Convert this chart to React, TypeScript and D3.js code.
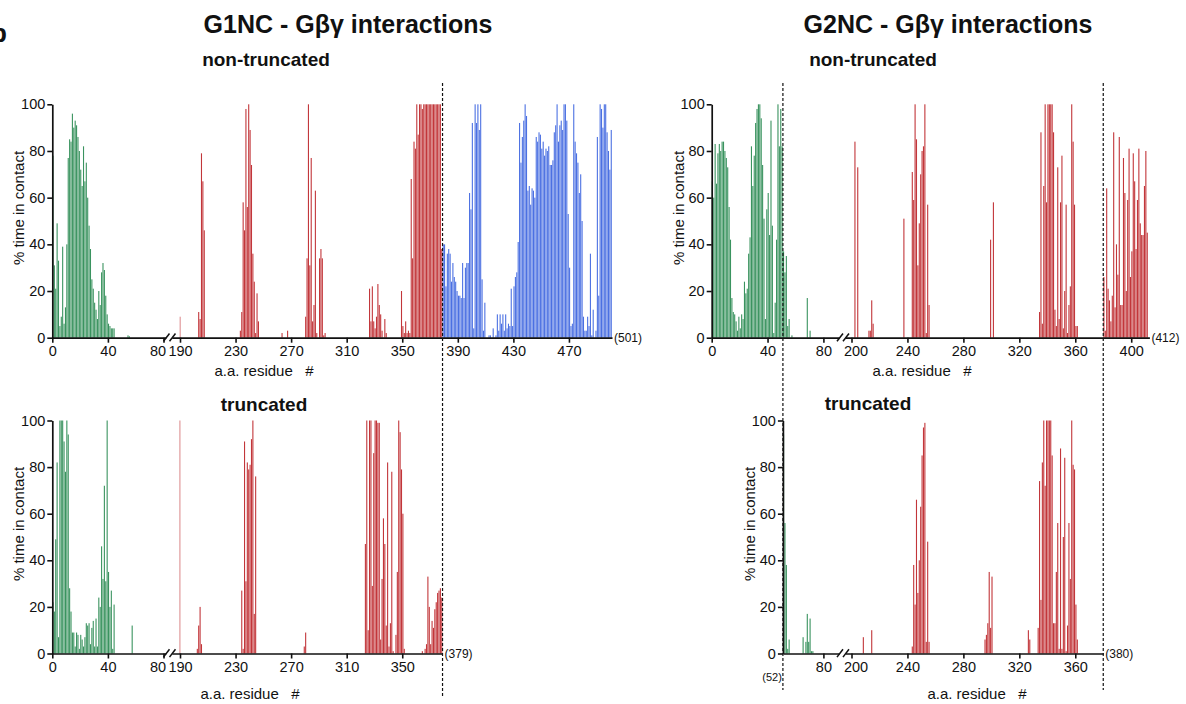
import React, { Component } from "react";
import * as d3 from "d3";

// each run: [first residue, % time in contact for consecutive residues]
type Run = [number, number[]];

// G1NC non-truncated
const g1FullGreen: Run[] = [
  [1, [78, 31, 21, 49, 33, 5, 9, 39, 6, 13, 40, 77, 85, 84, 96, 90, 93, 91, 86, 80, 72, 65, 82, 67, 75, 60, 48, 38, 25, 21, 15, 12, 8, 20, 14, 28, 32, 29, 18, 10, 6, 5, 4, 4, 4]],
  [55, [1, 0.6]],
];
const g1FullRed: Run[] = [
  [189, [9]],
  [204, [11, 8, 79, 67, 46]],
  [234, [3, 11, 58, 46, 98, 56, 100, 89, 74, 36, 24, 2, 19, 7]],
  [264, [2]],
  [268, [3]],
  [281, [9, 34, 100, 31, 77, 7, 14, 63, 2, 0, 34, 38, 34, 1, 2]],
  [327, [21, 7, 22, 7, 4, 9, 23, 14, 10, 3, 0, 8, 2]],
  [350, [20, 5, 2, 7, 2, 3, 2, 68, 34, 84, 81, 100, 87, 100, 100, 98, 100, 100, 100, 100, 100, 100, 100, 100, 100, 100, 100, 100, 100, 38]],
];
const g1FullBlue: Run[] = [
  [380, [
    40, 40, 22, 36, 38, 36, 24, 32, 26, 24,
    20, 18, 18, 17, 32, 17, 30, 32, 32, 62,
    55, 92, 4, 100, 92, 100, 89, 100, 25, 3,
    15, 0, 0, 1, 1, 0, 4, 0, 1, 10,
    3, 10, 6, 10, 3, 10, 4, 6, 5, 21,
    5, 22, 26, 28, 41, 92, 75, 86, 93, 100,
    95, 63, 65, 57, 64, 63, 60, 86, 84, 88,
    87, 81, 84, 78, 81, 80, 82, 74, 74, 76,
    88, 91, 100, 84, 91, 93, 89, 100, 100, 93,
    53, 30, 5, 6, 100, 84, 79, 75, 62, 70,
    50, 9, 3, 3, 9, 5, 36, 1, 12, 0,
    3, 86, 18, 100, 98, 90, 100, 100, 88, 80,
    72, 89,
  ]],
];

// G1NC truncated
const g1TruncGreen: Run[] = [
  [1, [22, 18, 49, 82, 7, 100, 100, 100, 91, 78, 100, 94, 28, 18, 9, 9, 3, 9, 8, 2, 8, 6, 3, 7, 13, 12, 13, 4, 11, 14, 3, 15, 3, 24, 20, 46, 32, 72, 31, 100, 35, 20, 27, 2, 21]],
  [58, [12]],
];
const g1TruncRed: Run[] = [
  [188, [100]],
  [203, [2, 12, 20, 4]],
  [235, [27, 2, 91, 31, 82, 79, 81, 92, 100, 17, 76]],
  [280, [3, 9]],
  [324, [47, 100, 10, 100, 100, 29, 86, 100, 100, 99, 99, 6, 32, 58, 47, 12, 82, 3, 13, 78, 1, 0, 8, 35, 100, 95, 79, 60, 2]],
  [365, [1, 0, 2, 4, 33, 20, 4, 14, 11, 19, 22, 26, 27, 28, 24]],
];

// G2NC non-truncated
const g2FullGreen: Run[] = [
  [1, [
    67, 60, 83, 66, 79, 83, 80, 84, 84, 80,
    77, 73, 56, 42, 17, 11, 10, 7, 3, 9,
    4, 10, 8, 24, 19, 21, 36, 43, 82, 65,
    78, 92, 98, 100, 100, 94, 74, 51, 8, 55,
    62, 44, 93, 48, 2, 15, 42, 100, 82, 98,
    82, 37, 28, 35, 5, 8,
  ]],
  [58, [1]],
  [69, [17]],
  [71, [3]],
];
const g2FullRed: Run[] = [
  [203, [84, 0, 73]],
  [213, [3, 3, 16, 6]],
  [238, [51]],
  [244, [71, 59, 100, 85, 31, 49, 70, 80, 82, 100, 2, 57, 14]],
  [300, [42, 0, 58]],
  [335, [11, 88, 6, 65, 100, 58, 100, 100, 100, 100, 88, 12, 5, 73, 8, 58, 78, 4, 20, 57, 2, 14, 22, 100, 84, 57, 5, 5]],
  [381, [26, 3, 64, 21, 16, 7, 18, 88, 13, 40, 27, 86, 14, 14, 77, 62, 20, 59, 81, 26, 37, 79, 67, 38, 59, 81, 49, 44, 44, 65, 80, 45]],
];

// G2NC truncated
const g2TruncGreen: Run[] = [
  [52, [94, 56, 38, 2, 6]],
  [66, [7, 0, 5, 17, 5, 15, 1, 1]],
];
const g2TruncRed: Run[] = [
  [209, [7]],
  [215, [10]],
  [244, [3, 38, 21, 66, 26, 40, 63, 85, 97, 99, 5, 48, 5]],
  [296, [6, 8, 13, 35, 11, 33]],
  [327, [10, 6]],
  [334, [11, 74, 23, 82, 100, 72, 100, 100, 100, 100, 85, 13, 13, 35, 56, 2, 88, 2, 50, 84, 1, 12, 56, 32, 100, 81, 79, 21, 6]],
];

const g1FullTicks = [0, 40, 80, 190, 230, 270, 310, 350, 390, 430, 470];
const g1TruncTicks = [0, 40, 80, 190, 230, 270, 310, 350];
const g2FullTicks = [0, 40, 80, 200, 240, 280, 320, 360, 400];
const g2TruncTicks = [80, 200, 240, 280, 320, 360];
const yTicks = [0, 20, 40, 60, 80, 100];

const GREEN = "#3a935f";
const RED = "#c2363a";
const BLUE = "#4b70e2";
const INK = "#111";
const FONT = "'Liberation Sans', Arial, Helvetica, sans-serif";

// broken residue axes, same px per residue on both sides of the break
const g1Base = d3.scaleLinear().domain([0, 80, 190, 501]).range([52.3, 163.5, 180, 612]);
const g2Base = d3.scaleLinear().domain([0, 80, 200, 413]).range([711.7, 823.4, 851.5, 1149.4]);

const TOP = { y0: 337.7, y1: 104.3 };
const BOT = { y0: 653.5, y1: 420.5 };

class App extends Component {
  svgRef = React.createRef<SVGSVGElement>();

  componentDidMount() {
    const svg = d3.select(this.svgRef.current);
    svg.selectAll("*").remove();

    // nudge: labels either side of the break sit a little apart in the original
    const labelShift: Record<number, number> = { 80: -6, 200: 4 };

    const panels = [
      { base: g1Base, lo: 0, hi: 501, brk: 190, brkX: 169.5, ...TOP, ticks: g1FullTicks, end: "(501)",
        series: [[g1FullGreen, GREEN], [g1FullRed, RED], [g1FullBlue, BLUE]], xlab: 264, xlabY: 376, shift80: true },
      { base: g1Base, lo: 0, hi: 379, brk: 190, brkX: 169.5, ...BOT, ticks: g1TruncTicks, end: "(379)",
        series: [[g1TruncGreen, GREEN], [g1TruncRed, RED]], xlab: 250, xlabY: 699, shift80: true },
      { base: g2Base, lo: 0, hi: 413, brk: 200, brkX: 843, ...TOP, ticks: g2FullTicks, end: "(412)",
        series: [[g2FullGreen, GREEN], [g2FullRed, RED]], xlab: 922, xlabY: 376, shift80: false },
      { base: g2Base, lo: 51, hi: 380, brk: 200, brkX: 843, ...BOT, ticks: g2TruncTicks, end: "(380)",
        series: [[g2TruncGreen, GREEN], [g2TruncRed, RED]], xlab: 977, xlabY: 699, start: "(52)", shift80: false },
    ];

    panels.forEach((p: any) => {
      const b = p.base;
      const x = d3.scaleLinear()
        .domain([p.lo, 80, p.brk, p.hi])
        .range([b(p.lo), b(80), b(p.brk), b(p.hi)]);
      const y = d3.scaleLinear().domain([0, 100]).range([p.y0, p.y1]);
      const g = svg.append("g");

      const bars: { r: number; v: number; c: string }[] = [];
      p.series.forEach(([runs, c]: [Run[], string]) =>
        runs.forEach(([start, vals]) =>
          vals.forEach((v, i) => { if (v > 0) bars.push({ r: start + i, v, c }); })));

      g.selectAll("rect.bar")
        .data(bars)
        .join("rect")
        .attr("class", "bar")
        .attr("x", d => x(d.r - 1) + 0.1)
        .attr("width", d => Math.max(0.6, x(d.r) - x(d.r - 1) - 0.3))
        .attr("y", d => y(d.v))
        .attr("height", d => y(0) - y(d.v))
        .attr("fill", d => d.c);

      // x axis
      const gx = g.append("g")
        .attr("transform", `translate(0, ${p.y0})`)
        .call(d3.axisBottom(x).tickValues(p.ticks).tickSize(5).tickSizeOuter(0).tickPadding(3) as any);
      gx.select(".domain").attr("stroke", INK).attr("stroke-width", 1.7);
      gx.selectAll(".tick line").attr("stroke", INK).attr("stroke-width", 1.6);
      gx.selectAll(".tick text")
        .attr("fill", INK).attr("font-size", 14.5).attr("font-family", FONT)
        .attr("dx", (d: any) => {
          if (d === 80 && p.shift80) return labelShift[80];
          if (d === 200) return labelShift[200];
          return 0;
        });

      // axis break  //
      const c = p.brkX;
      g.append("rect").attr("x", c - 3.2).attr("y", p.y0 - 1.5).attr("width", 6).attr("height", 3).attr("fill", "#fff");
      [c - 6, c].forEach(sx => {
        g.append("line")
          .attr("x1", sx).attr("y1", p.y0 + 3.6)
          .attr("x2", sx + 6).attr("y2", p.y0 - 4.2)
          .attr("stroke", INK).attr("stroke-width", 1.5);
      });

      // y axis
      const gy = g.append("g")
        .attr("transform", `translate(${x(p.lo)}, 0)`)
        .call(d3.axisLeft(y).tickValues(yTicks).tickSize(5).tickSizeOuter(0).tickPadding(2) as any);
      gy.select(".domain").attr("stroke", INK).attr("stroke-width", 1.7);
      gy.selectAll(".tick line").attr("stroke", INK).attr("stroke-width", 1.6);
      gy.selectAll(".tick text").attr("fill", INK).attr("font-size", 14.5).attr("font-family", FONT);

      // labels
      g.append("text")
        .attr("transform", `translate(${x(p.lo) - 28}, ${(p.y0 + p.y1) / 2 - 13}) rotate(-90)`)
        .attr("text-anchor", "middle")
        .attr("font-family", FONT).attr("font-size", 15).attr("fill", INK)
        .text("% time in contact");

      g.append("text")
        .attr("x", p.xlab).attr("y", p.xlabY)
        .attr("text-anchor", "middle")
        .attr("font-family", FONT).attr("font-size", 15).attr("fill", INK)
        .style("white-space", "pre")
        .text("a.a. residue   #");

      g.append("text")
        .attr("x", x(p.hi) + 2).attr("y", p.y0 + 4)
        .attr("font-family", FONT).attr("font-size", 12).attr("fill", INK)
        .text(p.end);

      if (p.start) {
        g.append("text")
          .attr("x", x(p.lo) - 1).attr("y", p.y0 + 27)
          .attr("text-anchor", "end")
          .attr("font-family", FONT).attr("font-size", 11).attr("fill", INK)
          .text(p.start);
      }
    });

    // dashed separators
    [[g1Base(379), 83, 696], [g2Base(51), 83, 690], [g2Base(380), 83, 690]].forEach(([lx, a, z]) => {
      svg.append("line")
        .attr("x1", lx).attr("x2", lx).attr("y1", a).attr("y2", z)
        .attr("stroke", INK).attr("stroke-width", 1.2).attr("stroke-dasharray", "3,2");
    });

    // titles
    const titles: [string, number, number, number][] = [
      ["b", -9, 42, 26],
      ["G1NC - G\u03b2\u03b3 interactions", 348, 33, 25],
      ["G2NC - G\u03b2\u03b3 interactions", 948, 33, 25],
      ["non-truncated", 266, 66, 19],
      ["non-truncated", 873, 66, 19],
      ["truncated", 264, 411, 19],
      ["truncated", 868, 410, 19],
    ];
    svg.selectAll("text.title")
      .data(titles)
      .join("text")
      .attr("class", "title")
      .attr("x", d => d[1]).attr("y", d => d[2])
      .attr("text-anchor", d => (d[0] === "b" ? "start" : "middle"))
      .attr("font-family", FONT).attr("font-weight", "bold")
      .attr("font-size", d => d[3]).attr("fill", INK)
      .text(d => d[0]);
  }

  render() {
    return (
      <svg
        ref={this.svgRef}
        width={1186}
        height={704}
        style={{ position: "absolute", left: 0, top: 0, background: "#fff" }}
      />
    );
  }
}

export default App;
